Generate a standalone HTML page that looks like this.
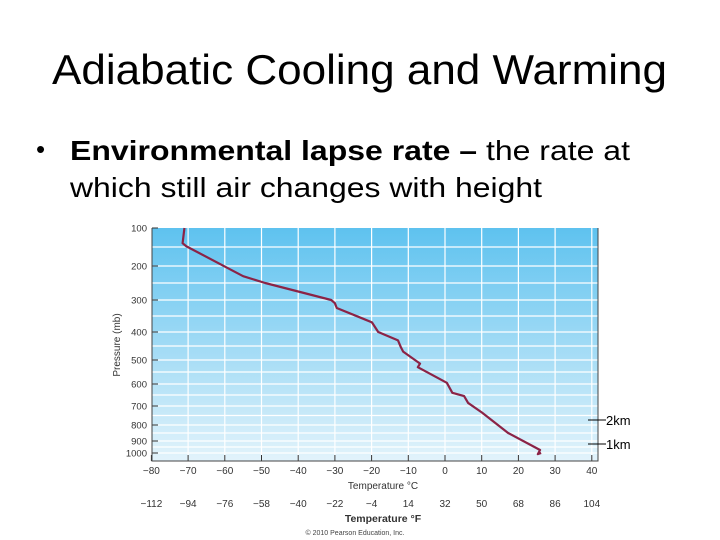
<!DOCTYPE html>
<html><head><meta charset="utf-8"><style>
body{margin:0;background:#fff;width:720px;height:540px;overflow:hidden;font-family:"Liberation Sans",sans-serif}
svg{display:block}
</style></head><body>
<svg id="s" width="720" height="540" xmlns="http://www.w3.org/2000/svg" font-family="Liberation Sans, sans-serif">
<defs><linearGradient id="bg" x1="0" y1="0" x2="0" y2="1">
<stop offset="0" stop-color="#5ec2ef"/><stop offset="1" stop-color="#e2f3fb"/></linearGradient></defs>
<text x="52" y="84" font-size="42" textLength="615" lengthAdjust="spacingAndGlyphs">Adiabatic Cooling and Warming</text>
<text x="36" y="158" font-size="26">•</text>
<text x="70" y="160" font-size="28" textLength="560" lengthAdjust="spacingAndGlyphs"><tspan font-weight="bold">Environmental lapse rate –</tspan> the rate at</text>
<text x="70" y="197" font-size="28" textLength="472" lengthAdjust="spacingAndGlyphs">which still air changes with height</text>
<rect x="152" y="228" width="446" height="233" fill="url(#bg)"/>
<g id="grid"></g><g id="axes"></g>
<polyline id="profile" fill="none" stroke="#8b2346" stroke-width="2.2" stroke-linejoin="round"/>
<text x="383" y="489" font-size="10" text-anchor="middle" fill="#333">Temperature °C</text>
<text x="383" y="522" font-size="10.5" font-weight="bold" text-anchor="middle" fill="#333">Temperature °F</text>
<text x="355" y="535" font-size="7" text-anchor="middle" fill="#444">© 2010 Pearson Education, Inc.</text>
<text transform="translate(120,345) rotate(-90)" font-size="10" text-anchor="middle" fill="#333">Pressure (mb)</text>
<g><line x1="588" y1="420" x2="606" y2="420" stroke="#000"/><text x="606" y="425" font-size="13">2km</text></g>
<g><line x1="588" y1="444" x2="606" y2="444" stroke="#000"/><text x="606" y="449" font-size="13">1km</text></g>
</svg>
<script>
const tempTicksC=[-80,-70,-60,-50,-40,-30,-20,-10,0,10,20,30,40];
const tempTicksF=[-112,-94,-76,-58,-40,-22,-4,14,32,50,68,86,104];
const pressureTicks=[100,200,300,400,500,600,700,800,900,1000];
const profileTemp=[-71,-71.5,-70.5,-55,-49,-31,-30,-29.5,-22,-19.9,-18.2,-12.8,-12,-11.4,-6.8,-7.4,0.5,2,5.2,6.3,10.1,17.2,25.9,25.3,26.2];
const profilePres=[100,140,148,230,250,300,310,325,360,370,400,430,455,470,515,530,595,640,655,686,735,850,975,1010,1000];
function xS(t){return 445+3.67*t;}
function yS(p){
  const kp=[100,200,300,400,500,600,700,800,900,1000,1100];
  const ky=[228,266,300,332,360,384,406,425,441,453,464];
  for(let i=0;i<kp.length-1;i++){ if(p<=kp[i+1]) return ky[i]+(p-kp[i])/(kp[i+1]-kp[i])*(ky[i+1]-ky[i]); }
  return 464;
}
const NS="http://www.w3.org/2000/svg";
const grid=document.getElementById('grid'),axes=document.getElementById('axes');
function mk(tag,attrs,parent){const e=document.createElementNS(NS,tag);for(const k in attrs)e.setAttribute(k,attrs[k]);parent.appendChild(e);return e;}
for(let p=150;p<=1000;p+=50){
  const l=mk('line',{x1:152,x2:598,y1:yS(p),y2:yS(p),stroke:'#fff','stroke-width':1.2},grid);
  
  
}
tempTicksC.forEach((t,i)=>{
  if(t>-80){const l=mk('line',{x1:xS(t),x2:xS(t),y1:228,y2:461,stroke:'#fff','stroke-width':1.2},grid);
  
  }
  const tk=mk('line',{x1:xS(t),x2:xS(t),y1:455,y2:461,stroke:'#333'},axes);
  
  
  const lb=mk('text',{x:xS(t),y:474,'font-size':10,'text-anchor':'middle',fill:'#333'},axes);
  lb.textContent=(t<0?'\u2212':'')+Math.abs(t);
  
  
  const lf=mk('text',{x:xS(t),y:507,'font-size':10,'text-anchor':'middle',fill:'#333'},axes);
  lf.textContent=(tempTicksF[i]<0?'\u2212':'')+Math.abs(tempTicksF[i]);
  
  
});
pressureTicks.forEach(p=>{
  const tk=mk('line',{x1:152,x2:158,y1:yS(p),y2:yS(p),stroke:'#333'},axes);
  
  
  const lb=mk('text',{x:147,y:yS(p)+3.5,'font-size':9.5,'text-anchor':'end',fill:'#333'},axes);
  lb.textContent=p;
  
  
});
const ax=mk('path',{d:'M152,228V461H598V228',fill:'none',stroke:'#444','stroke-width':1},axes);


document.getElementById('profile').setAttribute('points',profileTemp.map((t,i)=>xS(t)+','+yS(profilePres[i])).join(' '));
</script>
</body></html>
